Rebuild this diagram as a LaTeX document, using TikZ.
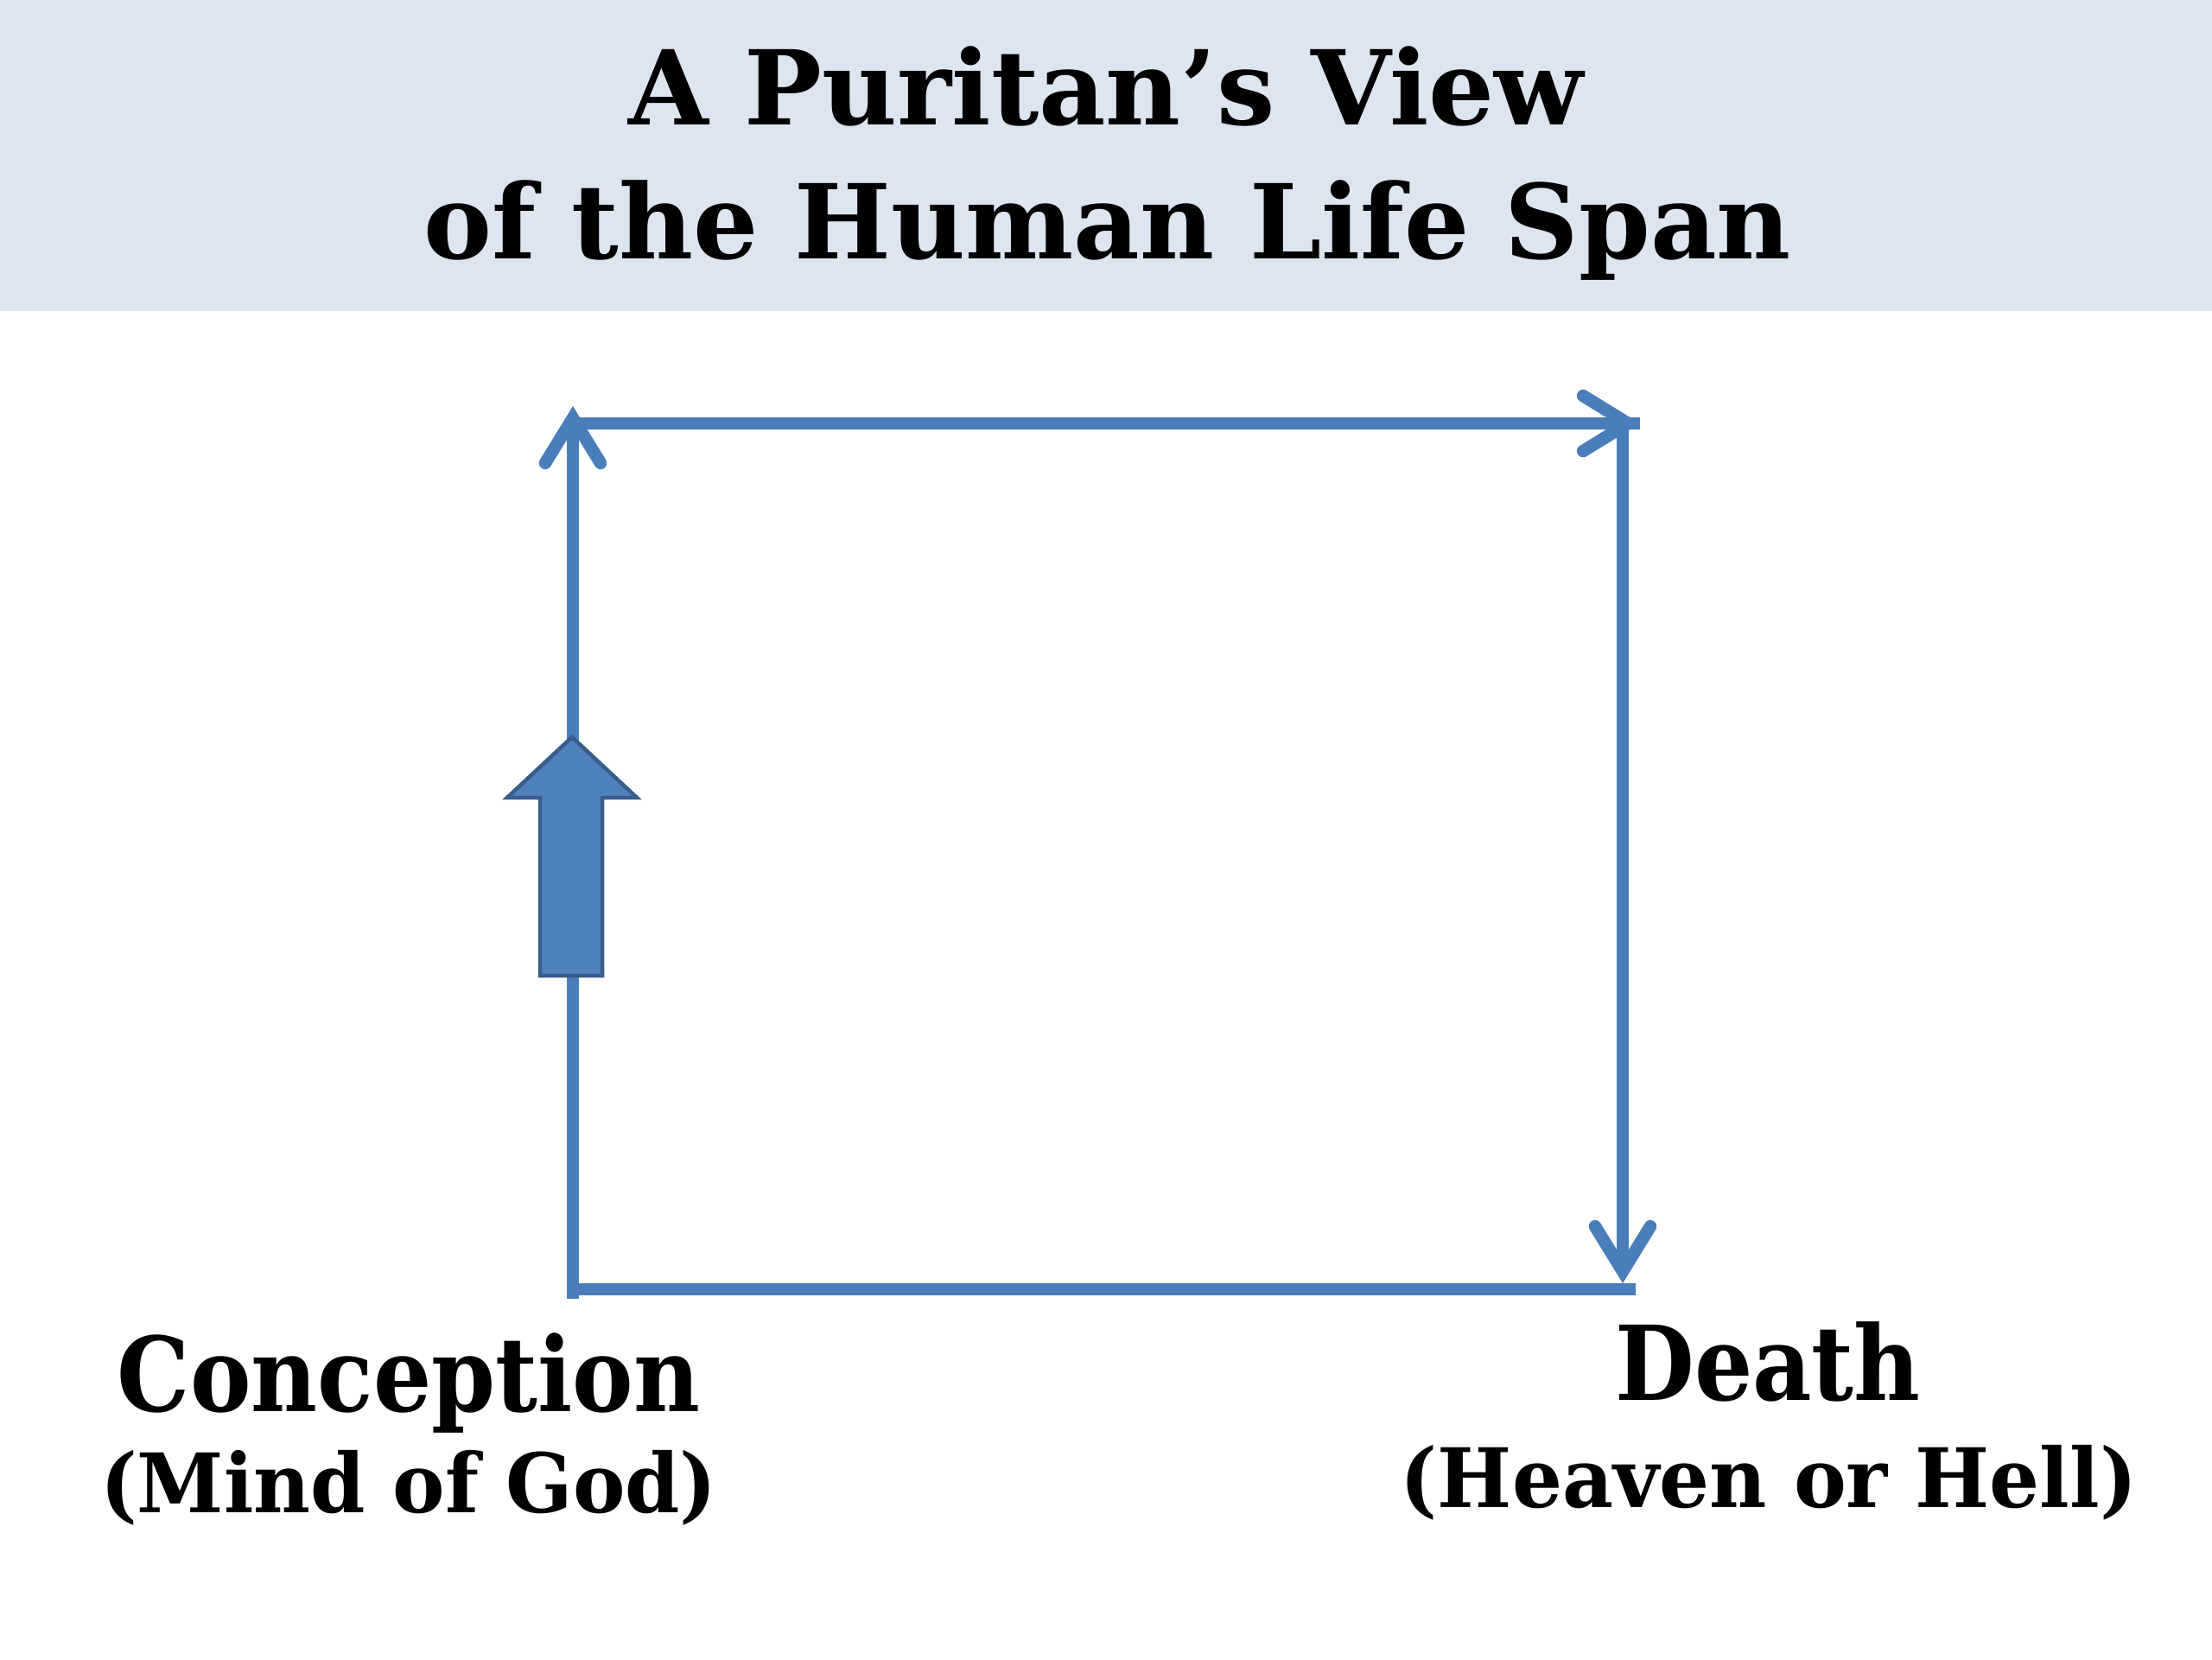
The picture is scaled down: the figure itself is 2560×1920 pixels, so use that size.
\documentclass[tikz,border=0pt]{standalone}
\usepackage{fontspec}
\usepackage{graphicx}
\setmainfont{DejaVu Serif}
\usetikzlibrary{arrows.meta}
\definecolor{band}{RGB}{220,229,240}
\definecolor{lineblue}{RGB}{74,126,187}
\definecolor{fillblue}{RGB}{79,129,189}
\definecolor{edgeblue}{RGB}{56,93,138}
\tikzset{
  flow/.style={draw=lineblue, line width=0.145cm, line cap=butt},
  tipped/.style={flow, -{Straight Barb[length=0.52cm, width=0.64cm, line cap=round, line join=miter]}},
  ttl/.style={anchor=base, inner sep=0pt, font=\bfseries\fontsize{34}{40}\selectfont},
  bigl/.style={anchor=base, inner sep=0pt, font=\bfseries\fontsize{34}{40}\selectfont},
  smalll/.style={anchor=base, inner sep=0pt, font=\bfseries\fontsize{27}{32}\selectfont},
}
\begin{document}
\begin{tikzpicture}[x=0.01cm, y=-0.01cm]
\useasboundingbox (0,0) rectangle (2560,1920);
\fill[white] (0,0) rectangle (2560,1920);
\fill[band] (0,0) rectangle (2560,360);
\node[ttl] (t1) at (1280,144) {A Puritan’s View};
\node[ttl] (t2) at (1282,299) {\scalebox{0.99}[1]{of the Human Life Span}};
\coordinate (BL) at (663,1492);
\coordinate (BLlow) at (663,1503);
\coordinate (TLtip) at (663,470);
\coordinate (TL) at (663,490);
\coordinate (TRtip) at (1898,490);
\coordinate (TR) at (1878,490);
\coordinate (BRtip) at (1878,1485);
\coordinate (BRend) at (1893,1492);
\draw[flow] (BL) -- (BRend);
\draw[flow] (TL) -- (TRtip);
\draw[tipped] (BLlow) -- (TLtip);
\draw[tipped] (TL) -- (TRtip);
\draw[tipped] (TR) -- (BRtip);
\filldraw[fill=fillblue, draw=edgeblue, line width=0.045cm, line join=miter]
  (662,853) -- (737,923) -- (697,923) -- (697,1129) -- (625,1129) -- (625,923) -- (587,923) -- cycle;
\node[bigl] (conc) at (473,1633) {\scalebox{0.885}[1]{Conception}};
\node[smalll] (mind) at (473,1750) {\scalebox{0.955}[1]{(Mind of God)}};
\node[bigl] (death) at (2046,1620) {\scalebox{0.885}[1]{Death}};
\node[smalll] (heav) at (2047,1744) {\scalebox{0.96}[1]{(Heaven or Hell)}};
\end{tikzpicture}
\end{document}
